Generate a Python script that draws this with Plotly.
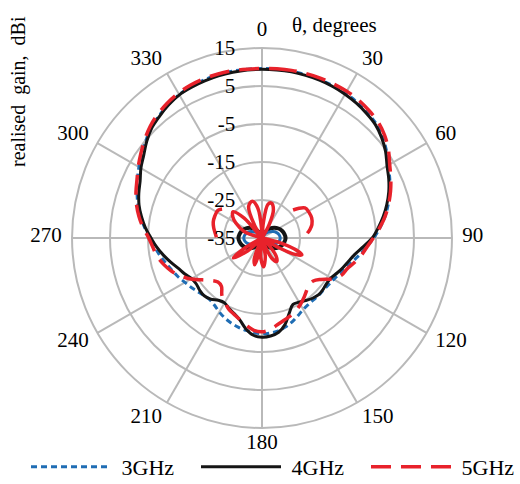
import plotly.graph_objects as go

# ---- data ----
theta_deg = list(range(0, 360, 5)) + [360]

gain_3ghz = [9.6, 9.6, 9.6, 9.5, 9.4, 9.2, 9.0, 8.6, 8.1, 7.5, 6.4, 5.0, 3.4, 2.1, 0.8, -0.6,
             -2.1, -3.8, -5.6, -7.4, -9.0, -10.5, -11.7, -12.6, -13.2, -13.6, -13.8, -13.8,
             -13.8, -13.7, -13.3, -12.5, -11.6, -10.8, -10.2, -9.9, -9.8, -10.0, -10.3, -10.7,
             -11.2, -11.8, -12.5, -13.3, -13.7, -13.5, -13.0, -12.3, -11.6, -10.7, -9.9, -8.9,
             -7.8, -6.7, -5.5, -4.0, -2.6, -1.2, 0.0, 1.2, 2.4, 3.6, 4.9, 6.2, 7.1, 7.9, 8.6,
             9.0, 9.3, 9.5, 9.6, 9.6, 9.6]

gain_4ghz = [9.4, 9.4, 9.4, 9.3, 9.2, 9.0, 8.7, 8.3, 7.8, 7.2, 6.1, 4.7, 3.0, 1.8, 0.5, -1.0,
             -2.6, -4.3, -6.0, -8.3, -10.2, -11.4, -12.3, -13.2, -14.0, -14.2, -14.0, -13.9,
             -14.3, -14.9, -15.5, -15.7, -14.0, -11.5, -9.8, -9.1, -8.9, -9.3, -10.7, -12.6,
             -13.8, -14.5, -15.3, -15.0, -14.0, -13.5, -13.6, -13.9, -13.6, -12.6, -11.6, -10.2,
             -8.7, -7.2, -5.8, -4.2, -2.8, -1.5, -0.5, 0.4, 1.8, 3.0, 4.6, 6.0, 6.9, 7.8, 8.5,
             8.8, 9.0, 9.2, 9.3, 9.4, 9.4]

gain_5ghz = [9.6, 9.7, 9.8, 9.8, 9.8, 9.7, 9.6, 9.3, 8.8, 8.2, 7.1, 5.6, 3.8, 2.4, 1.0, -0.5,
             -2.1, -3.9, -5.7, -7.3, -8.5, -9.9, -11.2, -11.9, -13.5, -16.0, -17.4, -17.5,
             -16.8, -15.8, -14.8, -13.9, -13.2, -12.6, -11.8, -10.8, -10.3, -10.6, -11.6, -12.7,
             -13.6, -14.3, -15.5, -16.6, -18.4, -18.6, -17.6, -15.8, -13.4, -11.4, -9.6, -8.2,
             -7.0, -6.2, -5.2, -3.6, -2.1, -0.8, 0.3, 1.3, 2.6, 3.9, 5.3, 6.6, 7.6, 8.4, 9.0,
             9.4, 9.6, 9.7, 9.7, 9.6, 9.6]

# small cross-polar lobes near the centre
xp_theta = list(range(0, 360, 10)) + [360]
xp_3ghz = [-35, -35, -35, -34.3, -33.3, -32.5, -31.6, -30.9, -30.4, -30.2, -30.4, -30.9, -31.6,
           -32.5, -33.3, -34.3, -35, -35, -35, -35, -35, -34.3, -33.3, -32.5, -31.6, -30.9,
           -30.4, -30.2, -30.4, -30.9, -31.6, -32.5, -33.3, -34.3, -35, -35, -35]
xp_4ghz = [-35, -35, -34.0, -33.0, -31.8, -30.8, -30.0, -29.4, -29.0, -28.8, -29.0, -29.4, -30.0,
           -30.8, -31.8, -33.0, -34.0, -35, -35, -35, -34.0, -33.0, -31.8, -30.8, -30.0, -29.4,
           -29.0, -28.8, -29.0, -29.4, -30.0, -30.8, -31.8, -33.0, -34.0, -35, -35]

xp5_theta = [0, 5, 10, 15, 22, 28, 33, 95, 105, 110, 113, 116, 120, 125, 135, 142, 148, 154,
             160, 165, 170, 177, 184, 188, 190, 195, 200, 206, 220, 228, 235, 240, 245, 280,
             290, 300, 306, 312, 318, 324, 330, 337, 345, 352, 358, 360,
             None, 48, 55, 62, 68, 75, 80, 84,
             None, 271, 276, 282, 288, 295, 302, 306]
xp_5ghz = [-35, -31, -26, -25.5, -27, -31, -35, -35, -30, -25, -23.6, -25, -30, -35, -33, -29,
           -27.7, -29, -33, -35, -30, -27.4, -30, -35, -32, -27.7, -29, -35, -35, -30, -25.8,
           -30, -35, -35, -30, -27, -25.5, -24.7, -28, -35, -31, -26, -25, -27, -33, -35,
           None, -24.0, -21.2, -20.9, -20.9, -21.4, -22.2, -23.0,
           None, -23.0, -22.6, -22.0, -21.5, -21.3, -21.3, -22.0]

angle_ticks = list(range(0, 360, 30))
angle_labels = [str(v) for v in angle_ticks]
series_names = ["3GHz", "4GHz", "5GHz"]

# ---- style ----
BLUE = "#1f6db4"
BLACK = "#151515"
RED = "#e8222b"
GRID = "#b9b9b9"
FONT = "Liberation Serif, Times New Roman, DejaVu Serif, serif"
NBSP = "\u00a0"

fig = go.Figure()
fig.add_trace(go.Scatterpolar(r=gain_3ghz, theta=theta_deg, mode="lines", name=NBSP + series_names[0],
                              line=dict(color=BLUE, width=3, dash="6px,4px", shape="spline")))
fig.add_trace(go.Scatterpolar(r=gain_4ghz, theta=theta_deg, mode="lines", name=NBSP + series_names[1],
                              line=dict(color=BLACK, width=3, shape="spline")))
fig.add_trace(go.Scatterpolar(r=gain_5ghz, theta=theta_deg, mode="lines", name=NBSP + series_names[2],
                              line=dict(color=RED, width=3.5, dash="20px,10px", shape="spline")))
fig.add_trace(go.Scatterpolar(r=xp_4ghz, theta=xp_theta, mode="lines", showlegend=False,
                              line=dict(color=BLACK, width=4, shape="spline")))
fig.add_trace(go.Scatterpolar(r=xp_3ghz, theta=xp_theta, mode="lines", showlegend=False,
                              line=dict(color=BLUE, width=3, shape="spline")))
fig.add_trace(go.Scatterpolar(r=xp_5ghz, theta=xp5_theta, mode="lines", showlegend=False,
                              connectgaps=False,
                              line=dict(color=RED, width=3.5, shape="spline")))

H_PLOT = 444  # plot-area height (figure height minus bottom margin)

fig.update_layout(
    width=520, height=484,
    margin=dict(l=0, r=0, t=0, b=484 - H_PLOT, autoexpand=False),
    paper_bgcolor="white", plot_bgcolor="white",
    font=dict(family=FONT, size=21, color="black"),
    polar=dict(
        domain=dict(x=[0.1385, 0.8692], y=[(H_PLOT - 428) / H_PLOT, (H_PLOT - 48) / H_PLOT]),
        bgcolor="white",
        angularaxis=dict(rotation=90, direction="clockwise",
                         tickvals=angle_ticks,
                         ticktext=['<span style="font-size:21px">%s</span>' % t for t in angle_labels],
                         showgrid=True, gridcolor=GRID, gridwidth=2,
                         linecolor=GRID, linewidth=2, showline=True,
                         ticks="outside", ticklen=7, tickcolor="rgba(0,0,0,0)",
                         tickfont=dict(family=FONT, size=11)),
        radialaxis=dict(range=[-35, 15], tickvals=[-35, -25, -15, -5, 5, 15],
                        ticktext=["-35", "-25", "-15", "-5", "5", "15"],
                        angle=90, side="counterclockwise", tickangle=90,
                        showline=False, showgrid=True, gridcolor=GRID, gridwidth=2,
                        ticks="outside", ticklen=19, tickcolor="rgba(0,0,0,0)",
                        tickfont=dict(family=FONT, size=21)),
    ),
    legend=dict(orientation="h", x=0.05, y=(H_PLOT - 467) / H_PLOT, xanchor="left", yanchor="middle",
                itemwidth=80, entrywidth=75, entrywidthmode="pixels",
                font=dict(family=FONT, size=22), bgcolor="rgba(0,0,0,0)"),
    annotations=[
        dict(text="θ, degrees", x=290 / 520, y=(H_PLOT - 25) / H_PLOT, xref="paper", yref="paper",
             xanchor="left", yanchor="middle", showarrow=False,
             font=dict(family=FONT, size=21)),
        dict(text="realised  gain,  dBi", x=18 / 520, y=(H_PLOT - 92) / H_PLOT, xref="paper", yref="paper",
             xanchor="center", yanchor="middle", textangle=-90, showarrow=False,
             font=dict(family=FONT, size=20)),
    ],
)

fig.write_html("out.html", config={"displayModeBar": False},
               post_script="document.body.style.margin='0';document.body.style.overflow='hidden';")
